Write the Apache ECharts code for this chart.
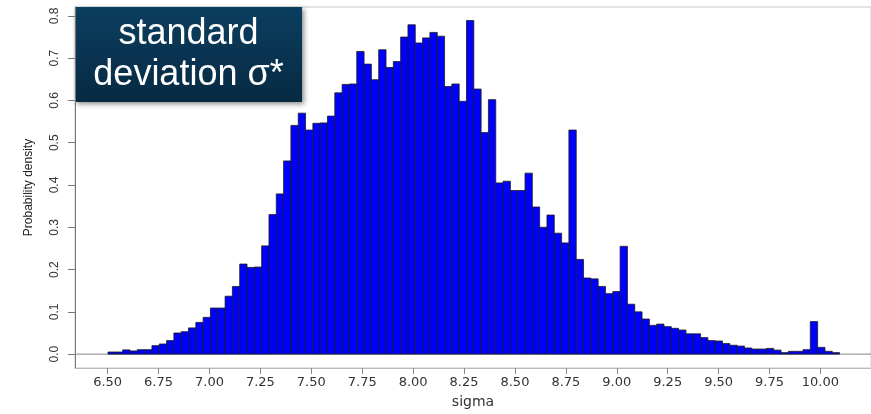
<!DOCTYPE html>
<html>
<head>
<meta charset="utf-8">
<script src="https://cdn.jsdelivr.net/npm/echarts@6/dist/echarts.min.js"></script>
<style>html,body{margin:0;padding:0;background:#fff}#c{width:871px;height:414px}</style>
</head>
<body>
<div id="c"></div>
<script>
// Histogram definition
const BIN_START = 6.502;
const BIN_WIDTH = 0.03592;
const density = [
  0.005, 0.005, 0.010, 0.0075, 0.0105, 0.0105, 0.020, 0.024, 0.032, 0.050,
  0.053, 0.062, 0.075, 0.087, 0.109, 0.109, 0.137, 0.160, 0.213, 0.205,
  0.206, 0.256, 0.330, 0.379, 0.457, 0.541, 0.570, 0.530, 0.546, 0.547,
  0.563, 0.618, 0.638, 0.639, 0.716, 0.686, 0.649, 0.720, 0.678, 0.692,
  0.750, 0.779, 0.736, 0.748, 0.761, 0.752, 0.633, 0.639, 0.598, 0.789,
  0.627, 0.524, 0.602, 0.405, 0.409, 0.387, 0.387, 0.428, 0.348, 0.300,
  0.329, 0.286, 0.263, 0.530, 0.224, 0.180, 0.178, 0.160, 0.143, 0.148,
  0.255, 0.118, 0.100, 0.083, 0.068, 0.071, 0.065, 0.061, 0.057, 0.048,
  0.048, 0.039, 0.032, 0.031, 0.025, 0.021, 0.019, 0.0145, 0.012, 0.012,
  0.0135, 0.0095, 0.0035, 0.0066, 0.0066, 0.0105, 0.077, 0.016, 0.0066, 0.0035
];
const xTicks = [6.5, 6.75, 7.0, 7.25, 7.5, 7.75, 8.0, 8.25, 8.5, 8.75, 9.0, 9.25, 9.5, 9.75, 10.0];
const yTicks = [0, 0.1, 0.2, 0.3, 0.4, 0.5, 0.6, 0.7, 0.8];
const X_MIN = 6.3398, X_MAX = 10.2483;
const Y_MIN = -0.03284, Y_MAX = 0.82111;

const histData = density.map((d, i) => [BIN_START + i * BIN_WIDTH, BIN_START + (i + 1) * BIN_WIDTH, d]);
const baseline = [[X_MIN, 0], [X_MAX, 0]];

const chart = echarts.init(document.getElementById('c'), null, {renderer: 'canvas'});
chart.setOption({
  animation: false,
  grid: {left: 75, top: 7, right: -2, bottom: 43, show: true, borderColor: '#c8c8c8', borderWidth: 1, backgroundColor: 'transparent'},
  xAxis: {
    type: 'value', min: X_MIN, max: X_MAX,
    name: 'sigma', nameLocation: 'middle', nameGap: 27,
    nameTextStyle: {fontFamily: 'DejaVu Sans', fontSize: 14, color: '#333'},
    axisLine: {show: true, onZero: false, lineStyle: {color: '#bbb', width: 1}},
    axisTick: {show: true, customValues: xTicks, length: 6, lineStyle: {color: '#888'}},
    axisLabel: {customValues: xTicks, formatter: v => v.toFixed(2), margin: 8, fontFamily: 'DejaVu Sans', fontSize: 13, color: '#333'},
    splitLine: {show: false}
  },
  yAxis: {
    type: 'value', min: Y_MIN, max: Y_MAX,
    name: 'Probability density', nameLocation: 'middle', nameGap: 40,
    nameTextStyle: {fontFamily: 'Liberation Sans', fontSize: 12, color: '#222'},
    axisLine: {show: true, onZero: false, lineStyle: {color: '#777', width: 1}},
    axisTick: {show: true, customValues: yTicks, length: 7, lineStyle: {color: '#777'}},
    axisLabel: {customValues: yTicks, formatter: v => v.toFixed(1), rotate: 90, margin: 14, fontFamily: 'Liberation Sans', fontSize: 12, color: '#333'},
    splitLine: {show: false}
  },
  series: [
    {
      type: 'line', data: baseline, symbol: 'none', silent: true, z: 1,
      lineStyle: {color: '#888', width: 1}
    },
    {
      type: 'custom', z: 2,
      data: histData,
      encode: {x: [0, 1], y: 2},
      renderItem: function (params, api) {
        const p0 = api.coord([api.value(0), api.value(2)]);
        const p1 = api.coord([api.value(1), 0]);
        return {
          type: 'rect',
          shape: {x: p0[0], y: p0[1], width: p1[0] - p0[0], height: p1[1] - p0[1]},
          style: {fill: '#0000ff', stroke: '#1a1a1a', lineWidth: 0.8}
        };
      }
    }
  ],
  graphic: [{
    type: 'group', left: 75, top: 7, z: 100,
    children: [
      {type: 'rect', shape: {x: 0, y: 0, width: 227, height: 95},
       style: {fill: new echarts.graphic.LinearGradient(0, 0, 0, 1, [{offset: 0, color: '#0c3e60'}, {offset: 1, color: '#062a42'}]),
               shadowBlur: 5, shadowColor: 'rgba(0,0,0,0.45)', shadowOffsetX: 2, shadowOffsetY: 2}},
      {type: 'text', x: 113.5, y: 48,
       style: {text: 'standard\ndeviation σ*', fill: '#ffffff', fontFamily: 'Liberation Sans', fontSize: 36, lineHeight: 41, align: 'center', verticalAlign: 'middle'}}
    ]
  }]
});
</script>
</body>
</html>
